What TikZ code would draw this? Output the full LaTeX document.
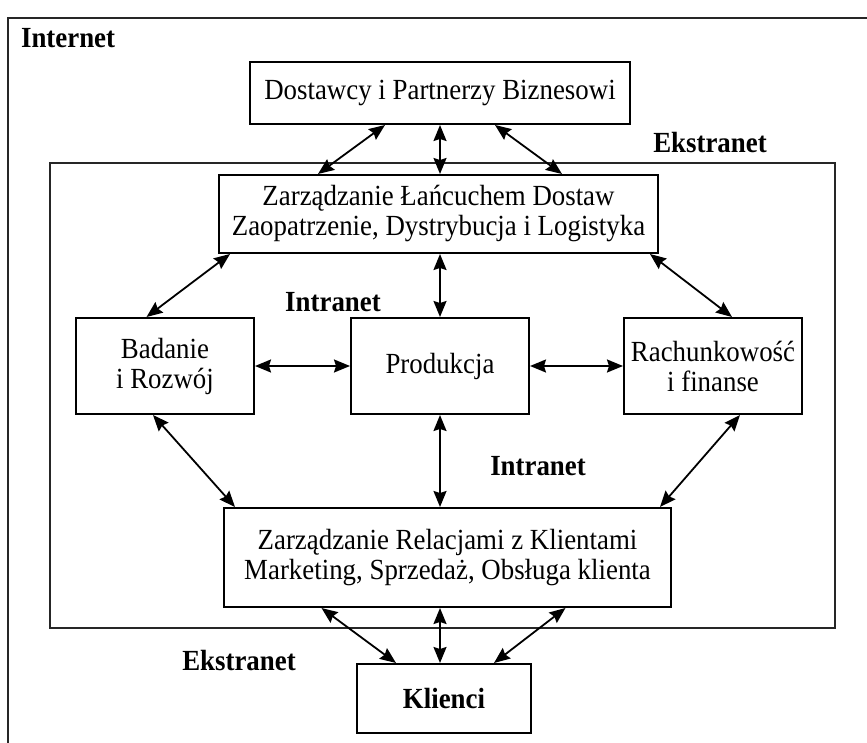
\documentclass[tikz,border=0pt]{standalone}
\usepackage{fontspec}
\setmainfont{Liberation Serif}[FakeStretch=0.92]
\usetikzlibrary{positioning}
\usetikzlibrary{calc}
\usetikzlibrary{arrows.meta}
\newcommand{\diagfont}{\fontsize{14.6pt}{15pt}\selectfont}
\tikzset{
  box/.style     = { rectangle, draw=black, line width=1pt, align=center, inner sep=2pt },
  unit/.style    = { box, minimum width=89pt, minimum height=48pt },
  chain/.style   = { box, minimum height=39pt },
  partner/.style = { box, minimum width=190pt, minimum height=31pt },
  client/.style  = { box, minimum width=87pt, minimum height=34.5pt, font=\diagfont\bfseries },
  zone/.style    = { font=\diagfont\bfseries },
  frame/.style   = { draw=black!85, line width=1pt },
  link/.style    = { <->, line width=0.9pt }
}

\begin{document}
\begin{tikzpicture}[
  x=0.5pt,y=-0.5pt,
  >={Stealth[length=8pt,width=6.5pt,inset=1pt]},
  font=\diagfont
]
  \useasboundingbox (0,0) rectangle (867,743);
  \clip (0,0) rectangle (867,743);

  % zones
  \draw [frame] (8,18) rectangle (900,780);
  \draw [frame] (50,163) rectangle (835,628);

  % middle row
  \node (prod) [unit] at (440,366)          {Produkcja};
  \node (rnd)  [unit,left=47.5pt of prod]   {Badanie\\i Rozwój};
  \node (fin)  [unit,right=46.5pt of prod]  {Rachunkowość\\i finanse};

  \node (scm)  [chain,above=31.5pt of prod,xshift=-0.75pt,minimum width=219.5pt]
               {Zarządzanie Łańcuchem Dostaw\\Zaopatrzenie, Dystrybucja i Logistyka};
  \node (crm)  [chain,below=46pt of prod,xshift=3.75pt,minimum width=223.5pt,minimum height=49.5pt]
               {Zarządzanie Relacjami z Klientami\\Marketing, Sprzedaż, Obsługa klienta};
  \node (supp) [partner,above=24.5pt of scm,xshift=0.75pt] {Dostawcy i Partnerzy Biznesowi};
  \node (cust) [client,below=27.5pt of crm,xshift=-1.75pt] {Klienci};

  \node (inet)   [zone,anchor=west] at (14,38) {Internet};
  \node (extra1) [zone] at (710,143) {Ekstranet};
  \node (intra1) [zone] at (333,302) {Intranet};
  \node (intra2) [zone] at (538,466) {Intranet};
  \node (extra2) [zone] at (239,661) {Ekstranet};

  % links
  \draw [link] ($ (supp.south) + (-55,0) $) -- ($ (scm.north) + (-120.5,0) $);
  \draw [link] (supp.south |- scm.north)    -- (supp.south);
  \draw [link] ($ (supp.south) + (55,0) $)  -- ($ (scm.north) + (123.5,0) $);

  \draw [link] ($ (scm.south) + (-208.5,0) $) -- ($ (rnd.north) + (-18.5,0) $);
  \draw [link] (prod.north |- scm.south)      -- (prod.north);
  \draw [link] ($ (scm.south) + (211.5,0) $)  -- ($ (fin.north) + (19,0) $);

  \draw [link] (rnd.east)  -- (prod.west);
  \draw [link] (prod.east) -- (fin.west);

  \draw [link] ($ (rnd.south) + (-12,0) $)  -- ($ (crm.north) + (-212.5,0) $);
  \draw [link] (prod.south) -- (prod.south |- crm.north);
  \draw [link] ($ (fin.south) + (27,0) $)   -- ($ (crm.north) + (212.5,0) $);

  \draw [link] ($ (crm.south) + (-126,0) $) -- ($ (cust.north) + (-48,0) $);
  \draw [link] (prod.south |- crm.south)    -- (prod.south |- cust.north);
  \draw [link] ($ (crm.south) + (118,0) $)  -- ($ (cust.north) + (50,0) $);

\end{tikzpicture}
\end{document}
